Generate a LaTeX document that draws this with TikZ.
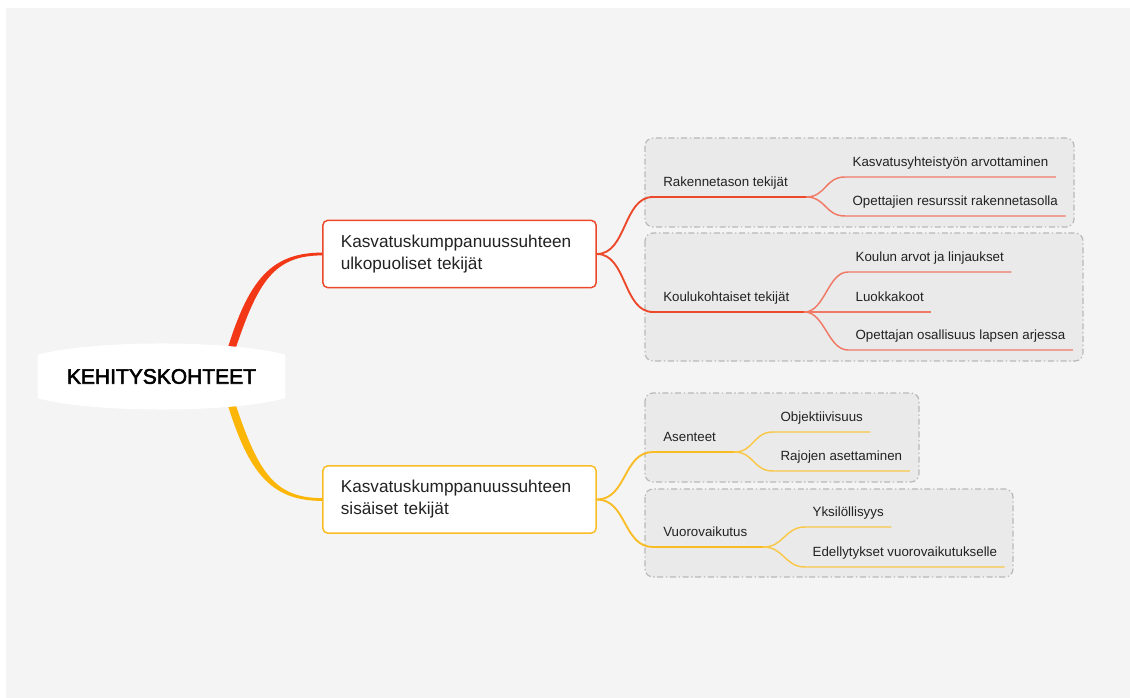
\documentclass[tikz,border=0pt]{standalone}
\usepackage{fontspec}
\setmainfont{Liberation Sans}
\newfontfamily\rootfont[FakeBold=2.6]{Liberation Sans}
\usetikzlibrary{calc, backgrounds}
\definecolor{bgcol}{RGB}{244,244,244}
\definecolor{groupfill}{RGB}{234,234,234}
\definecolor{groupline}{RGB}{185,185,185}
\definecolor{txtcol}{RGB}{34,34,34}
\definecolor{redmain}{RGB}{242,56,22}
\definecolor{redline}{RGB}{236,72,42}
\definecolor{redleaf}{RGB}{240,122,102}
\definecolor{yelmain}{RGB}{252,182,8}
\definecolor{yelline}{RGB}{249,188,36}
\definecolor{yelleaf}{RGB}{250,200,72}
\tikzset{
  rootnode/.style={minimum width=185.25pt, minimum height=32.25pt, inner sep=0pt,
    text=black, font=\rootfont\fontsize{15.75}{18}\selectfont},
  branchbox/.style={draw, fill=white, line width=1.1pt, rounded corners=3.75pt,
    minimum width=205pt, minimum height=50.5pt, inner xsep=13.5pt, text width=178pt,
    align=left, font=\fontsize{12.9}{16.5}\selectfont},
  catnode/.style={anchor=south west, inner xsep=7.5pt, inner ysep=5pt, text depth=2.5pt,
    font=\fontsize{10}{12}\selectfont},
  leafnode/.style={anchor=south west, inner xsep=5.5pt, inner ysep=5pt, text depth=2.5pt,
    font=\fontsize{10}{12}\selectfont},
  groupbox/.style={fill=groupfill, draw=groupline, line width=0.9pt, rounded corners=6pt,
    dash pattern=on 4.5pt off 2pt on 1pt off 2pt},
  catline/.style={line width=1.4pt},
  leafline/.style={line width=1.1pt}
}
\begin{document}
\begin{tikzpicture}[x=0.75pt, y=-0.75pt, every node/.style={text=txtcol}]
    \useasboundingbox (0,0) rectangle (1130,698);
    % centre and main branches
    \node[rootnode] (root) at (161.5,376.5) {KEHITYSKOHTEET};
    \node[branchbox, draw=redline] (ext) at (459.5,254) {Kasvatuskumppanuussuhteen\\ulkopuoliset tekijät};
    \node[branchbox, draw=yelline] (int) at (459.5,499.5) {Kasvatuskumppanuussuhteen\\sisäiset tekijät};
    % sub topics
    \node[catnode] (rak) at (653,197) {Rakennetason tekijät};
    \node[catnode] (kou) at (653,312) {Koulukohtaiset tekijät};
    \node[catnode] (ase) at (653,452) {Asenteet};
    \node[catnode] (vuo) at (653,547) {Vuorovaikutus};
    % leaves
    \node[leafnode] (arv) at (845,177) {Kasvatusyhteistyön arvottaminen};
    \node[leafnode] (res) at (845,216) {Opettajien resurssit rakennetasolla};
    \node[leafnode] (lin) at (848,272) {Koulun arvot ja linjaukset};
    \node[leafnode] (luo) at (848,312) {Luokkakoot};
    \node[leafnode] (osa) at (848,350) {Opettajan osallisuus lapsen arjessa};
    \node[leafnode] (obj) at (773,432) {Objektiivisuus};
    \node[leafnode] (raj) at (773,471) {Rajojen asettaminen};
    \node[leafnode] (yks) at (805,527) {Yksilöllisyys};
    \node[leafnode] (ede) at (805,567) {Edellytykset vuorovaikutukselle};
    % junction points after the sub topic lines
    \coordinate (rakj) at ($(rak.south east)+(8,0)$);
    \coordinate (kouj) at ($(kou.south east)+(5,0)$);
    \coordinate (asej) at ($(ase.south east)+(8,0)$);
    \coordinate (vuoj) at ($(vuo.south east)+(6,0)$);
    \begin{scope}[on background layer]
      \fill[white] (0,0) rectangle (1130,698);
      \fill[bgcol] (6,8) rectangle (1130,698);
      % dash-dot groups
      \draw[groupbox] (645,138) rectangle (1074,227);
      \draw[groupbox] (645,233) rectangle (1083,361);
      \draw[groupbox] (645,393) rectangle (919,482);
      \draw[groupbox] (645,489) rectangle (1013,577);
      % tapered main connectors
      \fill[redmain] ($(root.center)+(58,0)$) .. controls +(24,-88) and +(-58,0) .. ($(ext.west)+(0,-1.4)$)
        -- ($(ext.west)+(0,1.4)$) .. controls +(-54,0) and +(28,-88) .. ($(root.center)+(65,0)$) -- cycle;
      \fill[yelmain] ($(root.center)+(58,0)$) .. controls +(24,88) and +(-58,0) .. ($(int.west)+(0,1.4)$)
        -- ($(int.west)+(0,-1.4)$) .. controls +(-54,0) and +(28,88) .. ($(root.center)+(65,0)$) -- cycle;
      % centre shape
      \fill[white] (root.south west) -- (root.north west) .. controls +(55,-15) and +(-55,-15) .. (root.north east)
        -- (root.south east) .. controls +(-55,15) and +(55,15) .. (root.south west) -- cycle;
      % from branches to sub topics
      \draw[catline, redline] (ext.east) .. controls +(30,0) and +(-30,0) .. (rak.south west) -- (rakj);
      \draw[catline, redline] (ext.east) .. controls +(30,0) and +(-30,0) .. (kou.south west) -- (kouj);
      \draw[catline, yelline] (int.east) .. controls +(30,0) and +(-30,0) .. (ase.south west) -- (asej);
      \draw[catline, yelline] (int.east) .. controls +(30,0) and +(-30,0) .. (vuo.south west) -- (vuoj);
      % from sub topics to leaves
      \draw[leafline, redleaf] (rakj) .. controls +(20,0) and +(-20,0) .. (arv.south west) -- (arv.south east);
      \draw[leafline, redleaf] (rakj) .. controls +(20,0) and +(-20,0) .. (res.south west) -- (res.south east);
      \draw[leafline, redleaf] (kouj) .. controls +(20,0) and +(-20,0) .. (lin.south west) -- (lin.south east);
      \draw[leafline, redleaf] (kouj) -- (luo.south west) -- (luo.south east);
      \draw[leafline, redleaf] (kouj) .. controls +(20,0) and +(-20,0) .. (osa.south west) -- (osa.south east);
      \draw[leafline, yelleaf] (asej) .. controls +(20,0) and +(-20,0) .. (obj.south west) -- (obj.south east);
      \draw[leafline, yelleaf] (asej) .. controls +(20,0) and +(-20,0) .. (raj.south west) -- (raj.south east);
      \draw[leafline, yelleaf] (vuoj) .. controls +(20,0) and +(-20,0) .. (yks.south west) -- (yks.south east);
      \draw[leafline, yelleaf] (vuoj) .. controls +(20,0) and +(-20,0) .. (ede.south west) -- (ede.south east);
    \end{scope}
\end{tikzpicture}
\end{document}
